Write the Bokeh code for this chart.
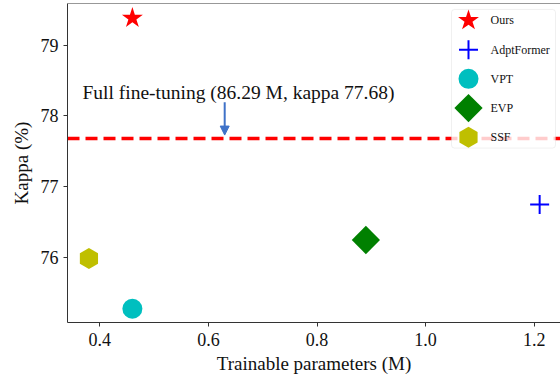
import math
from bokeh.plotting import figure
from bokeh.models import (Range1d, Span, Label, Arrow, NormalHead, FixedTicker,
                          NumeralTickFormatter, BoxAnnotation)
from bokeh.embed import file_html
from bokeh.resources import INLINE

# ---- data ----
methods = ["Ours", "AdptFormer", "VPT", "EVP", "SSF"]
params = [0.46, 1.21, 0.46, 0.89, 0.38]
kappa = [79.38, 76.75, 75.28, 76.25, 75.99]
full_ft_params = 86.29
full_ft_kappa = 77.68
x_ticks = [0.4, 0.6, 0.8, 1.0, 1.2]
y_ticks = [76, 77, 78, 79]

# ---- styles ----
markers = ["star", "cross", "circle", "square", "hex"]
colors = ["#ff0000", "#0000ff", "#00bfbf", "#008000", "#bfbf00"]
sizes = [22, 19, 20, 20, 21]
angles = [0, 0, 0, math.pi / 4, math.pi / 2]
FONT = "Liberation Serif"
AX = "#333333"
TXT = "#111111"

# ---- layout (pixels) ----
W, H = 560, 376
FL, FT, FR, FB = 67, 3, 560, 323          # frame edges in canvas px
XR = (0.3405, 1.2484)
YR = (75.086, 79.586)


def px_x(px):
    return XR[0] + (px - FL) * (XR[1] - XR[0]) / (FR - FL)


def px_y(py):
    return YR[1] - (py - FT) * (YR[1] - YR[0]) / (FB - FT)


p = figure(width=W, height=H, output_backend="svg", toolbar_location=None,
           x_range=Range1d(*XR), y_range=Range1d(*YR),
           min_border_left=FL, min_border_right=W - FR, min_border_top=FT,
           min_border_bottom=H - FB)
p.outline_line_color = None
p.xgrid.visible = False
p.ygrid.visible = False

for ax in (p.xaxis[0], p.yaxis[0]):
    ax.axis_line_color = AX
    ax.major_tick_line_color = AX
    ax.minor_tick_line_color = None
    ax.major_tick_in = 0
    ax.major_tick_out = 4
    ax.major_label_text_font = FONT
    ax.major_label_text_font_size = "18px"
    ax.major_label_text_color = TXT
    ax.axis_label_text_font = FONT
    ax.axis_label_text_font_size = "19px"
    ax.axis_label_text_font_style = "normal"
    ax.axis_label_text_color = TXT
p.xaxis.major_label_standoff = 6
p.xaxis.axis_label_standoff = 4
p.yaxis.major_label_standoff = 5
p.yaxis.axis_label_standoff = 6

p.xaxis.ticker = FixedTicker(ticks=x_ticks)
p.yaxis.ticker = FixedTicker(ticks=y_ticks)
p.xaxis.formatter = NumeralTickFormatter(format="0.0")
p.yaxis.formatter = NumeralTickFormatter(format="0")
p.xaxis.axis_label = "Trainable parameters (M)"
p.yaxis.axis_label = "Kappa (%)"

# top frame line
p.add_layout(Span(location=YR[1], dimension="width", line_color=AX, line_width=1))

# full fine-tuning reference line (under the legend box)
p.add_layout(Span(location=full_ft_kappa, dimension="width", line_color="#ff0000",
                  line_width=3.5, line_dash="12 6", level="underlay"))

blue = "#3f72c8"
p.add_layout(Arrow(x_start=0.63, y_start=px_y(102), x_end=0.63, y_end=full_ft_kappa + 0.05,
                   line_color=blue, line_width=2,
                   end=NormalHead(size=9, fill_color=blue, line_color=blue)))
p.add_layout(Label(x=px_x(82), y=px_y(92),
                   text=f"Full fine-tuning ({full_ft_params} M, kappa {full_ft_kappa})",
                   text_font=FONT, text_font_size="19.5px", text_color=TXT,
                   text_baseline="alphabetic"))

# legend box
p.add_layout(BoxAnnotation(left=px_x(451), right=px_x(555), top=px_y(9), bottom=px_y(148),
                           fill_color="white", fill_alpha=0.8,
                           line_color="#cccccc", line_width=1, border_radius=3,
                           level="underlay"))


def style(i):
    kw = dict(marker=markers[i], size=sizes[i], angle=angles[i])
    if markers[i] == "cross":
        kw.update(line_color=colors[i], line_width=2)
    else:
        kw.update(fill_color=colors[i], line_color=colors[i], line_width=0)
    return kw


for i, name in enumerate(methods):
    # data point
    p.scatter(x=[params[i]], y=[kappa[i]], **style(i))
    # legend entry
    ly = px_y(20 + 29.3 * i)
    p.scatter(x=[px_x(468)], y=[ly], **style(i))
    p.add_layout(Label(x=px_x(490), y=ly, text=name, text_font=FONT,
                       text_font_size="12px", text_color=TXT, text_baseline="middle"))

open("out.html", "w").write(file_html(p, INLINE))
